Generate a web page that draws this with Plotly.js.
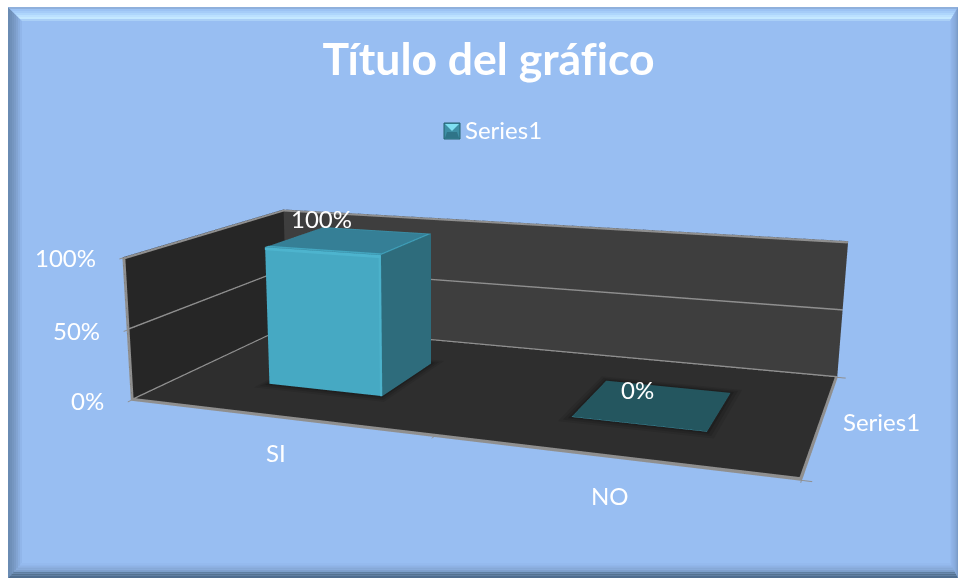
<!DOCTYPE html>
<html><head><meta charset="utf-8"><script src="https://cdn.plot.ly/plotly-3.0.1.min.js"></script>
<style>html,body{margin:0;padding:0;background:#fff;overflow:hidden}#w{position:relative;width:958px;height:579px;overflow:hidden}#c{position:absolute;left:-293px;top:-192px;width:1400px;height:1108px}svg text{font-variant-ligatures:none!important;font-feature-settings:"liga" 0,"clig" 0!important}</style></head>
<body><div id="w"><div id="c"></div></div>
<script>
var categories=['SI','NO'];
var values=[1,0];
var seriesName='Series1';
var percentTicks=[0,0.5,1];
var titleText='Título del gráfico';
var barCentre=0.51, barHalfWidth=0.197, barDepth=[0.3,0.7];
var OX=293,OY=192,W=1400,H=1108;
function fx(x){return (x+OX)/W} function fy(y){return 1-(y+OY)/H}
function pc(x,y){return fx(x)+','+fy(y)}
function quad(a,b,c,d,col,lay){return {type:'path',xref:'paper',yref:'paper',layer:lay||'below',path:'M'+pc(a[0],a[1])+'L'+pc(b[0],b[1])+'L'+pc(c[0],c[1])+'L'+pc(d[0],d[1])+'Z',fillcolor:col,line:{width:0}}}
var bevL=['#6a8bb3','#6f90b9','#7596c0','#7b9cc8','#82a4d2','#89adde','#91b6ea'];
var bevT=['#8fb0dc','#9cc3f4','#a5ccf8','#aed6fc','#bbe0ff','#c4e8ff','#aacff6'];
var bevB=['#4f6d8e','#54728f','#5f7ea0','#7f9fcc','#87a9d8','#8fb2e4','#95baee'];
var bevR=['#7b9cc9','#7e9fcd','#82a3d2','#86a8d8','#8bade0','#90b3e7','#95baee'];
function R(t){return {l:8+14*t,t:7+14*t,r:958-8*t,b:578-15*t}}
var shapes=[{type:'rect',xref:'paper',yref:'paper',layer:'below',x0:fx(8),x1:fx(958),y0:fy(7),y1:fy(578),fillcolor:'#98bef2',line:{width:0}}];
for(var i=0;i<7;i++){var a=R(i/7),b=R((i+1)/7);
 shapes.push(quad([a.l,a.t],[b.l,b.t],[b.l,b.b],[a.l,a.b],bevL[i]));
 shapes.push(quad([a.l,a.t],[a.r,a.t],[b.r,b.t],[b.l,b.t],bevT[i]));
 shapes.push(quad([a.r,a.t],[a.r,a.b],[b.r,b.b],[b.r,b.t],bevR[i]));
 shapes.push(quad([a.l,a.b],[a.r,a.b],[b.r,b.b],[b.l,b.b],bevB[i]));}
shapes.push({type:'rect',xref:'paper',yref:'paper',layer:'above',x0:fx(444),x1:fx(460),y0:fy(123),y1:fy(139),fillcolor:'#3e8fa5',line:{color:'#23606f',width:1}});
shapes.push(quad([445,124],[459,124],[452,131],[452,131],'#7fe0f2','above'));
shapes.push(quad([447,132],[457,132],[459,138],[445,138],'#2f7488','above'));

var flat={ambient:1,diffuse:0,specular:0,roughness:1,fresnel:0};
function strip(p,col){return {type:'mesh3d',showlegend:false,hoverinfo:'skip',flatshading:true,x:p.map(function(q){return q[0]}),y:p.map(function(q){return q[1]}),z:p.map(function(q){return q[2]}),i:[0,0],j:[1,2],k:[2,3],color:col,lighting:flat}}
function slab(x0,x1,y0,y1,z,col){return strip([[x0,y0,z],[x1,y0,z],[x1,y1,z],[x0,y1,z]],col)}
function bar(cat,val){
 var c=cat+barCentre,x0=c-barHalfWidth,x1=c+barHalfWidth,y0=barDepth[0],y1=barDepth[1];
 var t=Math.max(val,0.005);
 var top=val>0?'#357f96':'#24565f';
 return {type:'mesh3d',showlegend:false,hoverinfo:'skip',flatshading:true,
  x:[x0,x1,x1,x0,x0,x1,x1,x0],y:[y0,y0,y1,y1,y0,y0,y1,y1],z:[0,0,0,0,t,t,t,t],
  i:[0,0,1,1,4,4,3,3,0,0,2,2],j:[1,5,2,6,5,6,0,4,3,7,1,5],k:[5,4,6,5,6,7,4,7,7,4,5,6],
  facecolor:['#46a9c3','#46a9c3','#2e6c7c','#2e6c7c',top,top,'#46a9c3','#46a9c3','#46a9c3','#46a9c3','#2e6c7c','#2e6c7c'],
  lighting:flat};
}
var traces=[];
var G='#8f8f8f', zt=0.011, ey=0.002, ex=0.002;
values.forEach(function(v,i){var c=i+barCentre,x0=c-barHalfWidth,x1=c+barHalfWidth,y0=barDepth[0],y1=barDepth[1];
 traces.push(slab(x0-0.028,x1+0.028,y0-0.05,y1+0.05,0.001,'#2a2a2a'));
 traces.push(slab(x0-0.018,x1+0.018,y0-0.033,y1+0.033,0.002,'#252525'));
 traces.push(slab(x0-0.008,x1+0.008,y0-0.016,y1+0.016,0.003,'#1f1f1f'));
 traces.push(bar(i,v));
 if(v>0){var z=v+0.002,o=0.002;
  traces.push(strip([[x0,y0,z],[x1,y0,z],[x1,y0+0.022,z],[x0,y0+0.022,z]],'#43a6c0'));
  traces.push(strip([[x1-0.008,y0,z],[x1,y0,z],[x1,y1,z],[x1-0.008,y1,z]],'#3f9fb9'));
  traces.push(strip([[x0,y1-0.015,z],[x1,y1-0.015,z],[x1,y1,z],[x0,y1,z]],'#3a8ea6'));
  traces.push(strip([[x1-0.007,y0-o,0],[x1,y0-o,0],[x1,y0-o,v],[x1-0.007,y0-o,v]],'#4cb2cb'));
  traces.push(strip([[x0,y0-o,v-0.02],[x1,y0-o,v-0.02],[x1,y0-o,v],[x0,y0-o,v]],'#4db4ce'));}
});
percentTicks.forEach(function(t){
 var z0=t==1?t-zt:t, z1=t==1?t+0.005:t+zt;
 traces.push(strip([[ex,0,z0],[ex,1,z0],[ex,1,z1],[ex,0,z1]],G));
 traces.push(strip([[0,1-ey,z0],[2,1-ey,z0],[2,1-ey,z1],[0,1-ey,z1]],G));
});
traces.push(strip([[0,ey,0],[0.007,ey,0],[0.007,ey,1],[0,ey,1]],G));
traces.push(strip([[0,0,ey],[2,0,ey],[2,0.02,ey],[0,0.02,ey]],G));
traces.push(strip([[1.993,0,ey],[2,0,ey],[2,1,ey],[1.993,1,ey]],G));
traces.push({type:'scatter3d',mode:'markers',name:seriesName,x:[null],y:[null],z:[null],marker:{size:8,symbol:'square',color:'rgba(0,0,0,0)'},hoverinfo:'skip',showlegend:true});
var wf={family:'Lato, sans-serif',size:24,color:'#ffffff'};
var ann=[];
percentTicks.forEach(function(t){ann.push({x:0,y:0,z:t,text:Math.round(t*100)+'%',showarrow:false,xanchor:'right',xshift:-25,font:wf})});
var catShift=[[0,-35],[1,-38]];
categories.forEach(function(c,i){ann.push({x:i+0.5,y:0,z:0,text:c,showarrow:false,xshift:catShift[i][0],yshift:catShift[i][1],font:wf})});
ann.push({x:2,y:0.5,z:0,text:seriesName,showarrow:false,xshift:60,yshift:1,font:wf});
var lblShift=[[-26,22],[-13,15]];
values.forEach(function(v,i){ann.push({x:i+0.5,y:0.5,z:v,text:Math.round(v*100)+'%',showarrow:false,xshift:lblShift[i][0],yshift:lblShift[i][1],font:wf})});
var axLine={showline:true,linecolor:G,linewidth:2,ticks:'outside',ticklen:7,tickcolor:G,tickwidth:2,showticklabels:false,title:{text:''},zeroline:false,showspikes:false,showbackground:true,showgrid:false};
function ax(o){return Object.assign({},axLine,o)}
var layout={width:W,height:H,margin:{l:0,r:0,t:0,b:0},paper_bgcolor:'#ffffff',shapes:shapes,hovermode:false,
 title:{text:titleText,x:fx(488.5),xanchor:'center',y:fy(59),yanchor:'middle',xref:'paper',yref:'paper',font:{family:'Lato, sans-serif',size:44.5,color:'#ffffff',weight:700}},
 showlegend:true,legend:{x:fx(425),y:fy(130),xanchor:'left',yanchor:'middle',bgcolor:'rgba(0,0,0,0)',font:{family:'Lato, sans-serif',size:24,color:'#ffffff'},itemwidth:30},
 scene:{domain:{x:[0,1],y:[0,1]},aspectmode:'manual',aspectratio:{x:1.949,y:1.029,z:0.436},
  camera:{eye:{x:1.244,y:-3.783,z:0.915},center:{x:-0.865,y:1.426,z:-0.566},up:{x:0.047,y:-0.105,z:1},projection:{type:'perspective'}},
  xaxis:ax({range:[0,2],tickvals:[0,1,2],backgroundcolor:'#262626'}),
  yaxis:ax({range:[0,1],tickvals:[0,1],ticklen:5,backgroundcolor:'#3e3e3e'}),
  zaxis:ax({range:[0,1.005],tickvals:percentTicks,ticklen:14,backgroundcolor:'#2e2e2e'}),
  annotations:ann}};
Plotly.newPlot('c',traces,layout,{displayModeBar:false,responsive:false});
</script></body></html>
